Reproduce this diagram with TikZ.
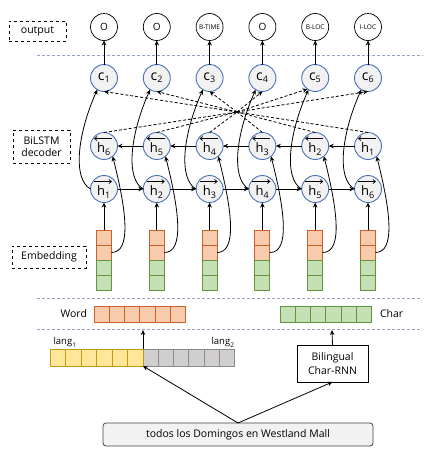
\documentclass[tikz,border=0pt]{standalone}
\usepackage{fontspec}
\setmainfont{Open Sans}
\usetikzlibrary{arrows.meta,calc}
\definecolor{cblue}{HTML}{4A72B8}
\definecolor{cfill}{HTML}{F2F2F2}
\definecolor{orF}{HTML}{F8CBAD}
\definecolor{orD}{HTML}{C8602A}
\definecolor{grF}{HTML}{C5E0B4}
\definecolor{grD}{HTML}{62963E}
\definecolor{yeF}{HTML}{FFE699}
\definecolor{yeD}{HTML}{C49A10}
\definecolor{gyF}{HTML}{D0CECE}
\definecolor{gyD}{HTML}{8C8C8C}
\definecolor{sepc}{HTML}{94A2C4}
\newcommand{\sublab}[3]{$\mbox{#1}_{\mbox{\fontsize{#3}{#3}\selectfont #2}}$}
\begin{document}
\begin{tikzpicture}[x=1pt,y=1pt,
  every node/.style={inner sep=0pt,outer sep=0pt},
  arr/.style={-{Stealth[length=5pt,width=4.5pt]},line width=0.8pt},
  harr/.style={-{Straight Barb[length=2.5pt,width=4pt]},line width=0.7pt},
  outc/.style={circle,draw=black,fill=white,minimum size=27pt,line width=0.7pt},
  cc/.style={circle,draw=cblue,fill=cfill,minimum size=27pt,line width=0.9pt,font=\fontsize{14}{14}\selectfont},
  hl/.style={font=\fontsize{13}{13}\selectfont},
  lbox/.style={draw=black,dashed,line width=0.7pt,font=\fontsize{10.5}{12.5}\selectfont,align=center},
  sepline/.style={draw=sepc,dash pattern=on 3pt off 2pt,line width=0.8pt},
  attn/.style={dash pattern=on 3pt off 2pt,line width=0.8pt},
  cell/.style={minimum width=15pt,minimum height=15pt,line width=1pt},
  ocell/.style={cell,draw=orD,fill=orF},
  gcell/.style={cell,draw=grD,fill=grF},
  txt/.style={font=\fontsize{10.5}{12.5}\selectfont}
]
\useasboundingbox (0,0) rectangle (432,-456);
% separators
\draw[sepline] (37,-55) -- (423,-55);
\draw[sepline] (37,-298) -- (421,-298);
\draw[sepline] (37,-329) -- (421,-329);
% label boxes
\node[lbox,minimum width=57pt,minimum height=20pt] (lout) at (37.5,-31) {output};
\node[lbox,minimum width=57pt,minimum height=33pt] (ldec) at (41.5,-146.5) {BiLSTM\\decoder};
\node[lbox,minimum width=74pt,minimum height=22pt] (lemb) at (49,-257) {Embedding};
% output labels
\def\outlist{{"O","O","B-TIME","O","B-LOC","I-LOC"}}
\foreach \i in {1,...,6}{
  \pgfmathsetmacro{\xx}{104+52.8*(\i-1)}
  \pgfmathsetmacro{\bi}{int(7-\i)}
  \pgfmathparse{\outlist[\i-1]}\let\olab\pgfmathresult
  \ifnum\i=1\relax\def\fs{10}\else\ifnum\i=2\relax\def\fs{10}\else\ifnum\i=4\relax\def\fs{10}\else\def\fs{6.5}\fi\fi\fi
  \node[outc,font=\fontsize{\fs}{\fs}\selectfont] (o\i) at (\xx,-27) {\olab};
  \node[cc] (c\i) at (\xx,-78) {\sublab{c}{\i}{9}};
  \node[cc] (b\i) at (\xx,-146) {};
  \node[hl] (bl\i) at (\xx,-149) {\sublab{h}{\bi}{9}};
  \draw[harr] ($(b\i.center)+(8,7.5)$) -- ++(-18,0);
  \node[cc] (f\i) at (\xx,-189) {};
  \node[hl] (fl\i) at (\xx,-192) {\sublab{h}{\i}{9}};
  \draw[harr] ($(f\i.center)+(-10,7.5)$) -- ++(18,0);
  \node[ocell] (e\i a) at (\xx,-237.5) {};
  \node[ocell] (e\i b) at (\xx,-252.5) {};
  \node[gcell] (e\i c) at (\xx,-267.5) {};
  \node[gcell] (e\i d) at (\xx,-282.5) {};
}
% attention point
\coordinate (att) at (237,-112);
\foreach \i in {1,...,6}{
  \draw[arr] (c\i.north) -- (o\i.south);
  \draw[arr] (e\i a.north) -- (f\i.south);
  \draw[attn] (b\i.north) -- (att);
  \draw[arr] (f\i.west) .. controls +(-18,10) and +(-20,-45) .. (c\i.240);
  \draw[arr] (e\i b.east) .. controls +(20,0) and +(14,-55) .. (b\i.-50);
}
\foreach \i in {1,2,3,4,6}{
  \draw[arr,attn] (att) -- (c\i.south);
}
\draw[arr,attn] (att) -- (c5.235);
\foreach \i [evaluate=\i as \j using int(\i+1)] in {1,...,5}{
  \draw[arr] (f\i.east) -- (f\j.west);
  \draw[arr] (b\j.west) -- (b\i.east);
}
% word and char bars
\node[txt,anchor=east] (wordl) at (87,-314) {Word};
\node[txt,anchor=west] (charl) at (380,-314) {Char};
\foreach \i in {1,...,6}{
  \node[cell,draw=orD,fill=orF,minimum width=15.33pt,minimum height=16pt] (w\i) at ({94+15.33*(\i-0.5)},-314) {};
  \node[cell,draw=grD,fill=grF,minimum width=15.33pt,minimum height=16pt] (ch\i) at ({280+15.33*(\i-0.5)},-314) {};
  \node[cell,draw=yeD,fill=yeF,minimum width=15.5pt,minimum height=17pt] (y\i) at ({50+15.5*(\i-0.5)},-357.5) {};
  \node[cell,draw=gyD,fill=gyF,minimum width=15.33pt,minimum height=17pt] (g\i) at ({143+15.33*(\i-0.5)},-357.5) {};
}
\node[font=\fontsize{9.5}{10}\selectfont] (l1) at (65,-342) {\sublab{lang}{1}{6.5}};
\node[font=\fontsize{9.5}{10}\selectfont] (l2) at (223,-342) {\sublab{lang}{2}{6.5}};
\node[draw=black,line width=0.8pt,minimum width=71pt,minimum height=37pt,align=center,font=\fontsize{10.5}{13.5}\selectfont] (rnn) at (332.5,-363.5) {Bilingual\\Char-RNN};
\node[draw=black!75,fill=cfill,rounded corners=3pt,line width=0.8pt,minimum width=270pt,minimum height=23pt,txt] (sent) at (238,-434.5) {todos los Domingos en Westland Mall};
\coordinate (wtop) at (143,-330);
\coordinate (ctop) at (332,-330);
\draw[arr] (y6.north east) -- (wtop);
\draw[arr] (rnn.north) -- (ctop);
\draw[arr] (sent.north) -- (y6.south east);
\draw[arr] (sent.north) -- (rnn.south);
\end{tikzpicture}
\end{document}
